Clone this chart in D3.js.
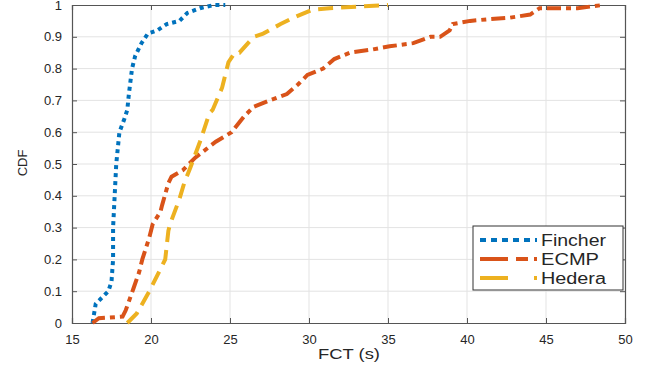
<!DOCTYPE html>
<html>
<head>
<meta charset="utf-8">
<script src="https://cdn.jsdelivr.net/npm/d3@7"></script>
<style>
  body { margin: 0; background: #fff; }
  text { font-family: "Liberation Sans", Arial, sans-serif; fill: #262626; }
</style>
</head>
<body>
<script>
// CDF of flow completion time
var fincher = [[16.3,0],[16.4,0.03],[16.5,0.06],[16.9,0.08],[17.3,0.1],[17.5,0.13],[17.6,0.2],[17.6,0.3],
  [17.7,0.4],[17.8,0.5],[17.9,0.55],[18.0,0.6],[18.3,0.64],[18.5,0.67],[18.6,0.72],[18.8,0.8],[19.0,0.84],
  [19.4,0.88],[19.8,0.91],[20.4,0.92],[21.0,0.94],[21.8,0.95],[22.3,0.975],[23.1,0.99],[24.0,1.0],[24.7,1.0]];
var ecmp = [[16.3,0],[16.7,0.015],[18.2,0.02],[18.4,0.04],[18.9,0.11],[19.25,0.16],[19.45,0.2],[19.9,0.27],
  [20.1,0.31],[20.6,0.35],[20.7,0.37],[21.1,0.44],[21.3,0.46],[22.0,0.48],[22.8,0.52],[24.1,0.57],[25.1,0.6],
  [25.9,0.65],[26.5,0.68],[27.5,0.7],[28.6,0.72],[29.3,0.75],[29.9,0.78],[30.9,0.8],[31.6,0.83],[32.6,0.85],
  [34.0,0.86],[35.1,0.87],[36.6,0.88],[37.7,0.9],[38.3,0.9],[38.9,0.92],[39.1,0.94],[40.2,0.95],[41.3,0.955],
  [42.7,0.96],[44.0,0.97],[44.6,0.99],[45.4,0.99],[47.0,0.99],[48.6,1.0]];
var hedera = [[18.5,0],[19.1,0.03],[19.9,0.1],[20.0,0.11],[20.9,0.2],[21.1,0.29],[21.2,0.31],[21.8,0.39],
  [22.1,0.44],[22.5,0.49],[23.1,0.57],[23.2,0.585],[23.7,0.66],[23.9,0.67],[24.5,0.74],[24.9,0.82],[25.3,0.85],
  [25.6,0.85],[26.5,0.9],[27.1,0.91],[28.2,0.94],[29.0,0.96],[30.2,0.985],[31.3,0.99],[33.2,0.995],[35.0,1.0]];

var seriesNames = ["Fincher", "ECMP", "Hedera"];
var xTicks = [15,20,25,30,35,40,45,50];
var yTicks = [0,0.1,0.2,0.3,0.4,0.5,0.6,0.7,0.8,0.9,1];

var W = 649, H = 369;
var pL = 72, pT = 5, pR = 625, pB = 323;

var x = d3.scaleLinear().domain([15,50]).range([pL,pR]);
var y = d3.scaleLinear().domain([0,1]).range([pB,pT]);

var svg = d3.select("body").append("svg").attr("width",W).attr("height",H);

// grid
svg.append("g").selectAll("line").data(xTicks.slice(1,-1)).enter().append("line")
  .attr("x1",function(d){return x(d);}).attr("x2",function(d){return x(d);})
  .attr("y1",pT).attr("y2",pB).attr("stroke","#e3e3e3").attr("stroke-width",1);
svg.append("g").selectAll("line").data(yTicks.slice(1,-1)).enter().append("line")
  .attr("y1",function(d){return y(d);}).attr("y2",function(d){return y(d);})
  .attr("x1",pL).attr("x2",pR).attr("stroke","#e3e3e3").attr("stroke-width",1);

// axes (ticks inside, box on)
var xAxis = d3.axisBottom(x).tickValues(xTicks).tickSize(-5).tickPadding(12);
var yAxis = d3.axisLeft(y).tickValues(yTicks).tickSize(-5).tickPadding(10).tickFormat(function(d){return d;});
svg.append("g").attr("transform","translate(0,"+pB+")").call(xAxis);
svg.append("g").attr("transform","translate("+pL+",0)").call(yAxis);
svg.append("g").attr("transform","translate(0,"+pT+")").call(d3.axisTop(x).tickValues(xTicks).tickSize(-5).tickFormat(""));
svg.append("g").attr("transform","translate("+pR+",0)").call(d3.axisRight(y).tickValues(yTicks).tickSize(-5).tickFormat(""));
svg.selectAll(".domain").attr("stroke","#555").attr("stroke-width",1.2);
svg.selectAll(".tick line").attr("stroke","#555");
svg.selectAll(".tick text").style("font-size","13px").attr("fill","#333").style("font-family","Liberation Sans, Arial, sans-serif");

// axis labels
svg.append("text").attr("x",349).attr("y",359).attr("text-anchor","middle")
  .style("font-size","14px").attr("textLength",62).attr("lengthAdjust","spacingAndGlyphs").text("FCT (s)");
svg.append("text").attr("transform","translate(27,163) rotate(-90)").attr("text-anchor","middle")
  .style("font-size","13px").text("CDF");

// curves
var colors = ["#0072BD","#D95319","#EDB120"];
var dashes = ["4,4","14,5,5,5","15,8"];
var line = d3.line().x(function(d){return x(d[0]);}).y(function(d){return y(d[1]);});
[fincher, ecmp, hedera].forEach(function(s,i){
  svg.append("path").attr("d",line(s)).attr("fill","none")
    .attr("stroke",colors[i]).attr("stroke-width",4).attr("stroke-dasharray",dashes[i]);
});

// legend
var lg = svg.append("g");
lg.append("rect").attr("x",473).attr("y",226).attr("width",150).attr("height",64)
  .attr("fill","#fff").attr("stroke","#333").attr("stroke-width",1);
var legendDash = ["6,5","28,8,12,6,3,0","28,26,3,0"];
var legendLen = [65,58,65];
seriesNames.forEach(function(n,i){
  var cy = 240 + i*19;
  lg.append("line").attr("x1",480).attr("x2",537).attr("y1",cy).attr("y2",cy)
    .attr("stroke",colors[i]).attr("stroke-width",4).attr("stroke-dasharray",legendDash[i]);
  lg.append("text").attr("x",541).attr("y",cy+6).style("font-size","16px")
    .attr("textLength",legendLen[i]).attr("lengthAdjust","spacingAndGlyphs").attr("fill","#111").text(n);
});
</script>
</body>
</html>
